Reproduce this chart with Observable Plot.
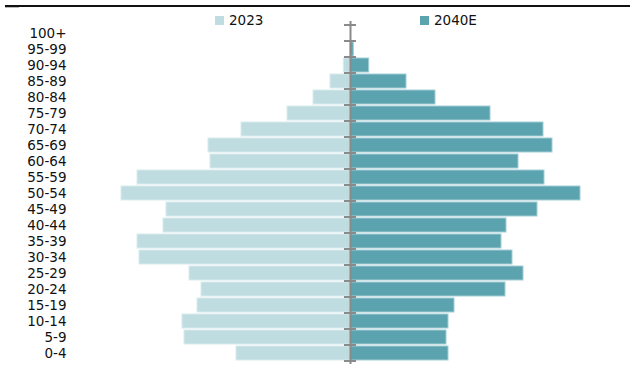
<!DOCTYPE html>
<html>
<head>
<meta charset="utf-8">
<script src="https://cdn.jsdelivr.net/npm/d3@7"></script>
<script src="https://cdn.jsdelivr.net/npm/@observablehq/plot@0.6"></script>
<style>
  body { margin: 0; background: #fff; font-family: "DejaVu Sans", sans-serif; }
  #wrap { position: relative; width: 630px; height: 370px; overflow: hidden; }
  #topline { position: absolute; left: 5px; right: 0; top: 5px; height: 2px; background: #111; }
  #topstub { position: absolute; left: 5px; width: 14px; top: 7px; height: 1px; background: #bbb; }
  .legend { position: absolute; top: 11px; font-size: 13.5px; color: #111; display: flex; align-items: center; line-height: 19px; }
  .legend i { display: inline-block; width: 9px; height: 9px; margin-right: 5px; }
  #chart svg { display: block; }
</style>
</head>
<body>
<div id="wrap">
  <div id="chart"></div>
  <div id="topline"></div>
  <div id="topstub"></div>
  <div class="legend" id="leg2023" style="left:215px"><i style="background:#bfdce0"></i>2023</div>
  <div class="legend" id="leg2040" style="left:420px"><i style="background:#5ba3ae"></i>2040E</div>
</div>
<script>
// Age groups, oldest at the top
const ageGroups = ["100+", "95-99", "90-94", "85-89", "80-84", "75-79", "70-74", "65-69", "60-64", "55-59",
  "50-54", "45-49", "40-44", "35-39", "30-34", "25-29", "20-24", "15-19", "10-14", "5-9", "0-4"];

// Population by age group
const pop2023 = [0, 0, 6.7, 20, 37, 63, 109, 142, 140, 213, 229, 184, 187, 213, 211, 161, 149, 153, 168, 166, 114];
const pop2040 = [0, 3.3, 18.7, 56, 85, 140, 193, 202, 168, 194, 230, 187, 156, 151, 162, 173, 155, 104, 98, 96, 98];

const seriesNames = ["2023", "2040E"];
const colors = {"2023": "#bfdce0", "2040E": "#5ba3ae"};
const strokes = {"2023": "#d9ebee", "2040E": "#a3ced5"};

// 2023 extends to the left, 2040E to the right
const rows = ageGroups.flatMap((age, i) => [
  {age, series: "2023", value: -pop2023[i]},
  {age, series: "2040E", value: pop2040[i]}
]);

const plot = Plot.plot({
  width: 630,
  height: 370,
  marginLeft: 70,
  marginRight: 0,
  marginTop: 21,
  marginBottom: 6,
  style: {fontFamily: "DejaVu Sans, sans-serif", fontSize: "13.5px", color: "#111", background: "#fff"},
  x: {domain: [-280, 280], axis: null},
  y: {domain: ageGroups, padding: 0.15, label: null},
  marks: [
    Plot.barX(rows, {
      x: "value",
      y: "age",
      fill: d => colors[d.series],
      stroke: d => strokes[d.series],
      strokeWidth: 1
    }),
    Plot.axisY({tickSize: 0, tickPadding: 4, fontSize: 13.5, fill: "#111", label: null}),
    Plot.ruleX([0], {stroke: "#8a8a8a", strokeWidth: 2})
  ]
});

document.getElementById("chart").appendChild(plot);

// Small ticks on the centre axis at each age-group boundary
const yScale = plot.scale("y");
const xScale = plot.scale("x");
const xZero = xScale.apply(0);
const firstEdge = yScale.apply(ageGroups[0]) - (yScale.step - yScale.bandwidth) / 2;
const tickGroup = d3.select(plot).append("g").attr("stroke", "#8a8a8a").attr("stroke-width", 2);
for (let k = 0; k <= ageGroups.length; k++) {
  const yEdge = firstEdge + k * yScale.step;
  tickGroup.append("line")
    .attr("x1", xZero - 6).attr("x2", xZero + 6)
    .attr("y1", yEdge).attr("y2", yEdge);
}
</script>
</body>
</html>
